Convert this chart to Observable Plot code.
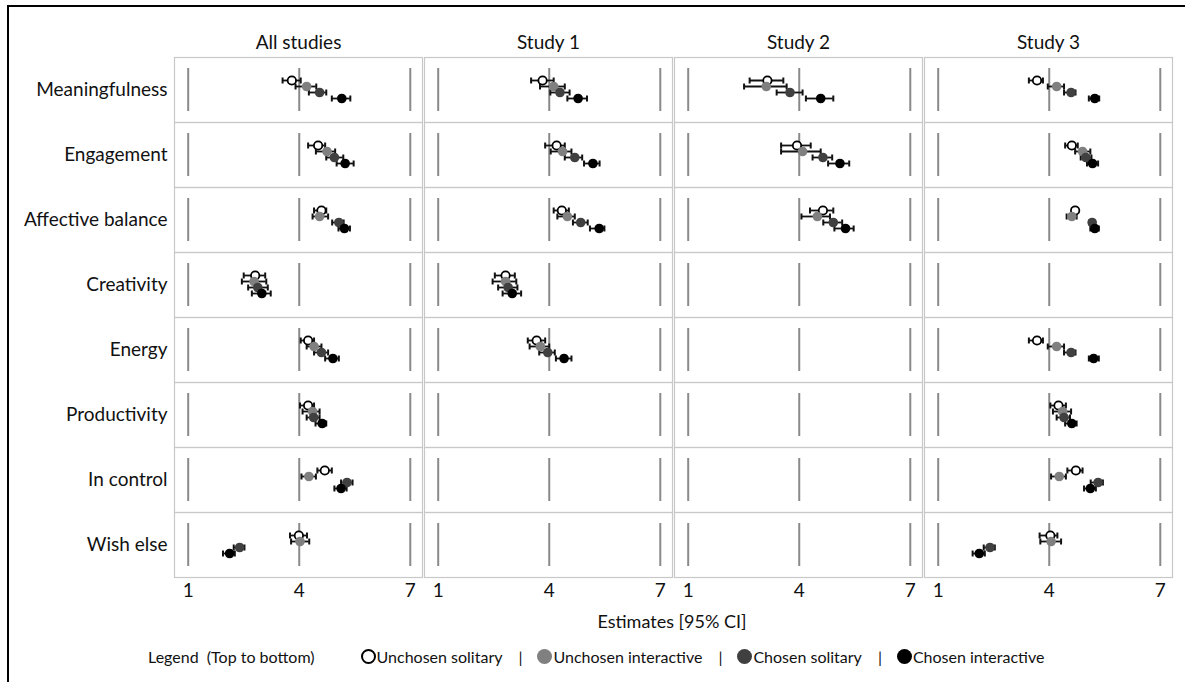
<!DOCTYPE html>
<html><head><meta charset="utf-8">
<script src="https://cdn.jsdelivr.net/npm/d3@7"></script>
<script src="https://cdn.jsdelivr.net/npm/@observablehq/plot@0.6"></script>
<style>
body{margin:0;background:#fff;font-family:Lato,"Open Sans",sans-serif;color:#111;}
#wrap{position:relative;width:1188px;height:682px;overflow:hidden;background:#fff;}
#border{position:absolute;left:7px;top:5px;width:1176px;height:700px;border-top:2px solid #000;border-left:2px solid #000;}
#chart{position:absolute;left:0;top:0;}
#xlabel{position:absolute;top:610px;left:472px;width:400px;text-align:center;font-size:18px;}
#legend{position:absolute;top:647px;left:148px;font-size:16px;white-space:pre;display:flex;align-items:center;}
.sym{display:inline-block;width:12px;height:12px;border-radius:50%;box-sizing:border-box;margin-right:1px;}
.sep{margin:0 15px 0 16px;}
</style></head>
<body><div id="wrap"><div id="border"></div><div id="chart"></div>
<div id="xlabel"></div>
<div id="legend"></div></div>
<script>
const studies = ["All studies", "Study 1", "Study 2", "Study 3"];
const measures = ["Meaningfulness", "Engagement", "Affective balance", "Creativity", "Energy", "Productivity", "In control", "Wish else"];
const series = ["Unchosen solitary", "Unchosen interactive", "Chosen solitary", "Chosen interactive"];
const seriesColors = ["#ffffff", "#808080", "#404040", "#000000"];
const xTicks = [1, 4, 7];
const legendTitle = "Legend  (Top to bottom)";
const xLabel = "Estimates [95% CI]";

// rows: measures; columns: series
const allEst = [[3.80,4.20,4.55,5.15],[4.51,4.75,4.95,5.24],[4.60,4.55,5.07,5.22],[2.81,2.78,2.88,2.99],[4.24,4.40,4.60,4.91],[4.24,4.36,4.39,4.62],[4.69,4.26,5.29,5.13],[3.99,4.02,2.39,2.12]];
const allLo  = [[3.55,3.90,4.26,4.88],[4.24,4.45,4.73,5.01],[4.40,4.36,4.89,5.06],[2.50,2.45,2.62,2.72],[4.04,4.20,4.40,4.70],[4.02,4.09,4.20,4.44],[4.49,4.06,5.13,4.95],[3.75,3.78,2.23,1.94]];
const allHi  = [[4.04,4.46,4.73,5.38],[4.70,4.97,5.19,5.47],[4.73,4.78,5.20,5.37],[3.08,3.11,3.15,3.23],[4.40,4.60,4.78,5.07],[4.40,4.55,4.55,4.73],[4.88,4.45,5.44,5.28],[4.21,4.27,2.52,2.26]];

const study1Est = [[3.82,4.12,4.29,4.78],[4.20,4.36,4.69,5.18],[4.34,4.49,4.85,5.35],[2.82,2.82,2.89,3.00],[3.66,3.76,3.96,4.40],null,null,null];
const study1Lo  = [[3.51,3.75,4.03,4.49],[3.89,4.04,4.42,4.94],[4.12,4.22,4.64,5.10],[2.53,2.47,2.62,2.74],[3.42,3.47,3.73,4.18],null,null,null];
const study1Hi  = [[4.12,4.42,4.55,5.02],[4.42,4.60,4.89,5.36],[4.53,4.69,5.04,5.49],[3.07,3.11,3.14,3.24],[3.89,4.00,4.15,4.60],null,null,null];

const study2Est = [[3.14,3.11,3.75,4.58],[3.94,4.09,4.64,5.10],[4.64,4.49,4.92,5.25],null,null,null,null,null];
const study2Lo  = [[2.66,2.51,3.39,4.18],[3.51,3.51,4.36,4.78],[4.29,4.06,4.65,4.95],null,null,null,null,null];
const study2Hi  = [[3.57,3.66,4.09,4.92],[4.31,4.58,4.89,5.35],[4.92,4.83,5.16,5.47],null,null,null,null,null];

const study3Est = [[3.67,4.20,4.59,5.23],[4.61,4.90,4.99,5.17],[4.70,4.61,5.16,5.23],null,[3.67,4.20,4.59,5.20],[4.25,4.36,4.40,4.61],[4.72,4.27,5.32,5.11],[4.03,4.05,2.40,2.11]];
const study3Lo  = [[3.45,3.96,4.40,5.07],[4.43,4.70,4.85,5.02],[4.61,4.47,5.08,5.11],null,[3.45,3.96,4.40,5.07],[4.03,4.10,4.20,4.43],[4.49,4.05,5.12,4.94],[3.74,3.76,2.23,1.93]];
const study3Hi  = [[3.83,4.40,4.71,5.35],[4.77,5.11,5.14,5.32],[4.78,4.74,5.23,5.34],null,[3.83,4.40,4.71,5.34],[4.45,4.59,4.56,4.74],[4.90,4.45,5.45,5.26],[4.22,4.32,2.53,2.26]];

const studyData = [[allEst, allLo, allHi],[study1Est, study1Lo, study1Hi],[study2Est, study2Lo, study2Hi],[study3Est, study3Lo, study3Hi]];

const table = [];
studies.forEach((s, si) => {
  const [E, L, H] = studyData[si];
  measures.forEach((m, mi) => {
    series.forEach((k, ki) => {
      table.push({study: s, measure: m, series: k,
        est: E[mi] ? E[mi][ki] : null,
        lo: L[mi] ? L[mi][ki] : null,
        hi: H[mi] ? H[mi][ki] : null});
    });
  });
});

const cap = {draw(ctx, size) { const h = Math.sqrt(size / Math.PI); ctx.moveTo(0, -h); ctx.lineTo(0, h); }};

const chart = Plot.plot({
  width: 1188, height: 640,
  marginLeft: 172, marginRight: 15, marginTop: 57, marginBottom: 63,
  style: {fontFamily: "Lato, 'Open Sans', sans-serif", fontSize: "19px", color: "#111", background: "transparent", overflow: "visible"},
  facet: {data: table, x: "study", y: "measure"},
  fx: {domain: studies, padding: 0.008, axis: "top", tickSize: 0, tickPadding: 9, label: null},
  fy: {domain: measures, padding: 0, axis: "left", tickSize: 0, tickPadding: 7, label: null},
  x: {domain: [0.63, 7.33], ticks: xTicks, tickFormat: d => String(d), tickSize: 0, tickPadding: 6, label: null, axis: "bottom"},
  y: {type: "point", domain: series, axis: null, insetTop: 18, insetBottom: 20},
  color: {domain: series, range: seriesColors},
  marks: [
    Plot.frame({stroke: "#c8c8c8", strokeWidth: 1.2}),
    ...xTicks.map(v => Plot.ruleX(table, {x: () => v, filter: d => d.series === series[0], stroke: "#8a8a8a", strokeWidth: 2, insetTop: 11, insetBottom: 11})),
    Plot.ruleY(table, {y: "series", x1: "lo", x2: "hi", stroke: "#111", strokeWidth: 1.8}),
    Plot.dot(table, {x: "lo", y: "series", symbol: cap, r: 3, stroke: "#111", strokeWidth: 2}),
    Plot.dot(table, {x: "hi", y: "series", symbol: cap, r: 3, stroke: "#111", strokeWidth: 2}),
    Plot.dot(table, {x: "est", y: "series", r: 4.2, fill: "#fff", stroke: "#000", strokeWidth: 1.8, filter: d => d.series === series[0]}),
    Plot.dot(table, {x: "est", y: "series", r: 4.8, fill: "series", stroke: null, filter: d => d.series !== series[0]})
  ]
});
document.getElementById("chart").appendChild(chart);
document.getElementById("xlabel").textContent = xLabel;

const leg = document.getElementById("legend");
const t = document.createElement("span"); t.textContent = legendTitle; t.style.marginRight = "46px"; leg.appendChild(t);
series.forEach((k, i) => {
  if (i > 0) { const s = document.createElement("span"); s.className = "sep"; s.textContent = "|"; leg.appendChild(s); }
  const c = document.createElement("span"); c.className = "sym";
  c.style.background = seriesColors[i];
  c.style.border = i === 0 ? "2px solid #000" : "none";
  c.style.width = "15px"; c.style.height = "15px";
  leg.appendChild(c);
  const l = document.createElement("span"); l.textContent = k; leg.appendChild(l);
});
</script></body></html>
